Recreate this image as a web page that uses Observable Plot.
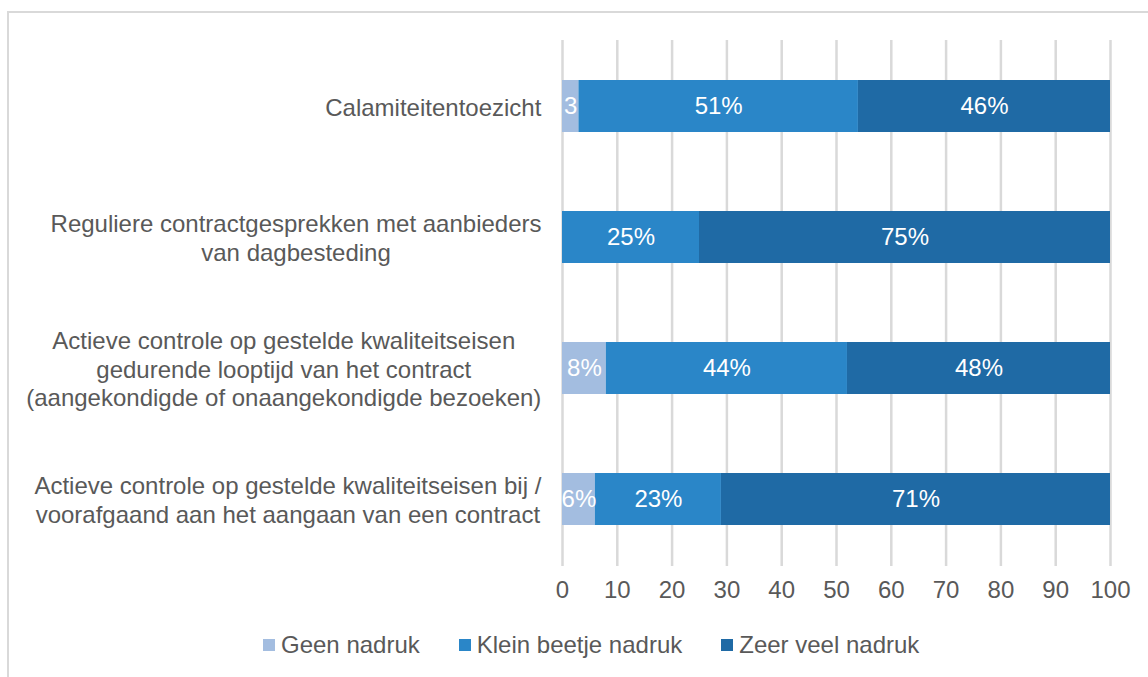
<!DOCTYPE html>
<html>
<head>
<meta charset="utf-8">
<script src="https://cdn.jsdelivr.net/npm/d3@7"></script>
<script src="https://cdn.jsdelivr.net/npm/@observablehq/plot@0.6"></script>
<style>
  html, body { margin: 0; padding: 0; background: #fff; width: 1148px; height: 677px; overflow: hidden; position: relative; font-family: "Liberation Sans", Arial, sans-serif; }
  #frame { position: absolute; left: 7px; top: 11px; width: 1200px; height: 700px; border-left: 2px solid #d9d9d9; border-top: 2px solid #d9d9d9; }
  #chart { position: absolute; left: 0; top: 0; }
  #legend { position: absolute; top: 631px; left: 263px; height: 28px; display: flex; align-items: center; font-size: 24px; color: #595959; white-space: nowrap; }
  #legend .item { display: flex; align-items: center; margin-right: 39px; }
  #legend .sw { width: 12px; height: 12px; margin-right: 6px; }
</style>
</head>
<body>
<div id="frame"></div>
<div id="chart"></div>
<div id="legend"></div>
<script>
const categories = [
  "Calamiteitentoezicht",
  "Reguliere contractgesprekken met aanbieders\nvan dagbesteding",
  "Actieve controle op gestelde kwaliteitseisen\ngedurende looptijd van het contract\n(aangekondigde of onaangekondigde bezoeken)",
  "Actieve controle op gestelde kwaliteitseisen bij /\nvoorafgaand aan het aangaan van een contract"
];
const seriesNames = ["Geen nadruk", "Klein beetje nadruk", "Zeer veel nadruk"];
const geenNadruk = [3, 0, 8, 6];
const kleinBeetjeNadruk = [51, 25, 44, 23];
const zeerVeelNadruk = [46, 75, 48, 71];
const geenLabels = ["3", "", "8%", "6%"];
const colors = ["#a3bde0", "#2a86c8", "#1f6aa5"];
const xTicks = [0, 10, 20, 30, 40, 50, 60, 70, 80, 90, 100];

const seriesValues = [geenNadruk, kleinBeetjeNadruk, zeerVeelNadruk];
const data = [];
categories.forEach((c, i) => {
  seriesNames.forEach((s, j) => {
    const v = seriesValues[j][i];
    data.push({category: c, series: s, value: v, label: j === 0 ? geenLabels[i] : `${v}%`});
  });
});

const font = "Liberation Sans, Arial, sans-serif";
const plot = Plot.plot({
  width: 1148,
  height: 620,
  marginLeft: 562,
  marginRight: 38,
  marginTop: 40,
  marginBottom: 54,
  style: {fontFamily: font, fontSize: "24px", color: "#595959", background: "transparent"},
  x: {domain: [0, 100], ticks: xTicks},
  y: {domain: categories, paddingInner: 0.6, paddingOuter: 0.3},
  color: {domain: seriesNames, range: colors},
  marks: [
    Plot.gridX(xTicks, {stroke: "#d9d9d9", strokeOpacity: 1, strokeWidth: 2.5}),
    Plot.barX(data, Plot.stackX({x: "value", y: "category", fill: "series", z: "series"})),
    Plot.textX(data, Plot.stackX({x: "value", y: "category", z: "series", text: "label", fill: "white", fontSize: 24, filter: d => d.value > 0})),
    Plot.axisX(xTicks, {tickSize: 0, tickPadding: 14, fontSize: 24, fill: "#595959", label: null, tickFormat: d => String(d)}),
    Plot.axisY({tickSize: 0, tickPadding: 21, fontSize: 24, fill: "#595959", label: null, lineHeight: 1.17})
  ]
});
document.getElementById("chart").appendChild(plot);

// center each multi-line y label block, right-aligned at the tick padding
plot.querySelectorAll('[aria-label="y-axis tick label"] text').forEach(t => {
  const w = t.getBBox().width;
  t.setAttribute("text-anchor", "middle");
  t.setAttribute("transform", (t.getAttribute("transform") || "") + ` translate(${-w / 2},0)`);
});

const legend = document.getElementById("legend");
seriesNames.forEach((s, i) => {
  const item = document.createElement("div");
  item.className = "item";
  const sw = document.createElement("div");
  sw.className = "sw";
  sw.style.background = colors[i];
  const tx = document.createElement("span");
  tx.textContent = s;
  item.appendChild(sw);
  item.appendChild(tx);
  legend.appendChild(item);
});
</script>
</body>
</html>
